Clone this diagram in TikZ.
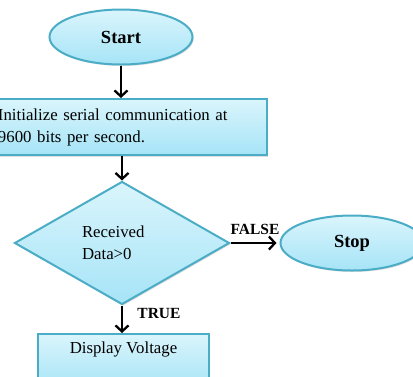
\documentclass[tikz,border=0pt]{standalone}
\usepackage{fontspec}
\setmainfont{Liberation Serif}
\usetikzlibrary{shapes.geometric,arrows.meta,shadows}
\definecolor{boxline}{HTML}{4BACC6}
\definecolor{boxtop}{HTML}{DAF5FC}
\definecolor{boxbot}{HTML}{A6E4F7}
\begin{document}
\begin{tikzpicture}[
	flowbox/.style={draw=boxline,line width=2pt,top color=boxtop,bottom color=boxbot,
		drop shadow={opacity=0.25,shadow xshift=1.2pt,shadow yshift=-1.5pt}},
	terminal/.style={flowbox,ellipse,minimum width=143pt,minimum height=55pt,inner sep=0pt,
		font=\fontsize{18.5}{22}\selectfont\bfseries},
	process/.style={flowbox,rectangle,inner sep=0pt,font=\fontsize{16.8}{22}\selectfont},
	decision/.style={flowbox,diamond,minimum width=215pt,minimum height=123pt,inner sep=0pt,
		text width=80pt,align=left,font=\fontsize{16.8}{22}\selectfont},
	flowarrow/.style={line width=2.3pt,-{Straight Barb[length=6pt,width=13pt]}},
	branch/.style={font=\fontsize{15.5}{18}\selectfont\bfseries}
]
	\useasboundingbox (0pt,0pt) rectangle (413pt,-376pt);
	\clip (0pt,0pt) rectangle (413pt,-376pt);
	% terminals and steps
	\node[terminal] (start) at (121pt,-37pt) {Start};
	\node[process,minimum width=282pt,minimum height=56pt,text width=256pt,align=left]
		(init) at (126pt,-127pt) {Initialize serial communication at\\9600 bits per second.};
	\node[decision] (dec) at (122pt,-243pt) {Received\\Data>0};
	\node[terminal] (stop) at (352pt,-243pt) {Stop};
	\node[process,anchor=north,minimum width=171pt,text height=13pt,text depth=30pt,inner ysep=6pt]
		(disp) at (123.5pt,-333pt) {Display Voltage};
	% connectors
	\draw[flowarrow] (start.south) -- (start.south |- init.north);
	\draw[flowarrow] (dec.north |- init.south) -- (dec.north);
	\draw[flowarrow,shorten >=3pt] (dec.east) -- (stop.west);
	\draw[flowarrow] (dec.south) -- (dec.south |- disp.north);
	% branch labels
	\node[branch] (lblfalse) at (255pt,-229pt) {FALSE};
	\node[branch] (lbltrue) at (159pt,-313pt) {TRUE};
\end{tikzpicture}
\end{document}
